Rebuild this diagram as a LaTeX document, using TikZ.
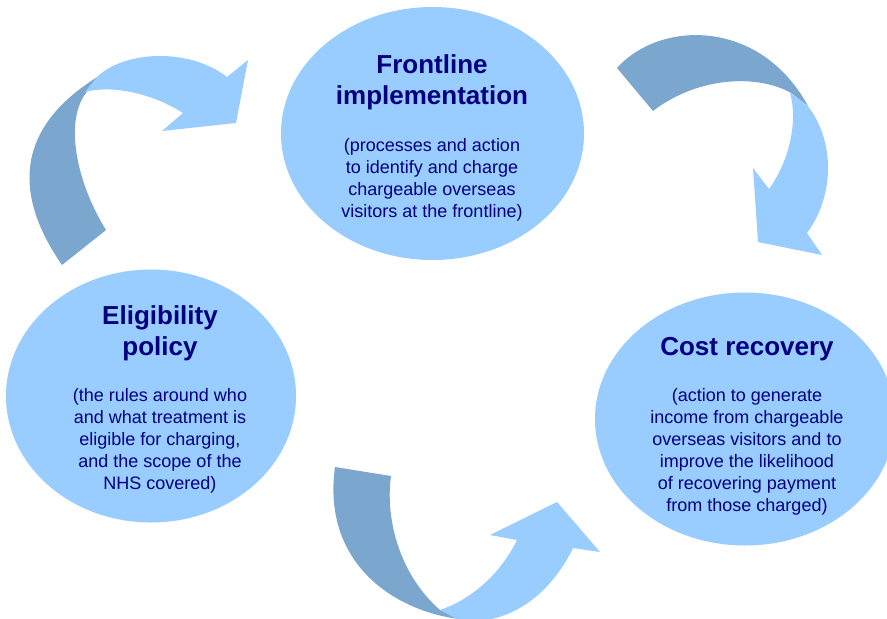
\documentclass[tikz,border=0pt]{standalone}
\usepackage{fontspec}
\setmainfont{Liberation Sans}
\usetikzlibrary{shapes.geometric}
\definecolor{bubblefill}{HTML}{99CCFF}
\definecolor{ribbonlight}{HTML}{99CCFF}
\definecolor{ribbondark}{HTML}{7BA6CE}
\definecolor{ink}{HTML}{000080}
\begin{document}
\begin{tikzpicture}[x=1pt,y=-1pt,
  bubble/.style={ellipse, fill=bubblefill, inner sep=0pt, draw=none},
  headline/.style={text=ink, inner sep=0pt, align=center,
    font=\fontsize{26}{31}\selectfont\bfseries},
  note/.style={text=ink, inner sep=0pt, align=center,
    font=\fontsize{18}{22}\selectfont},
  dark/.style={fill=ribbondark},
  light/.style={fill=ribbonlight}]
\useasboundingbox (0,0) rectangle (887,619);
\clip (0,0) rectangle (887,619);

% curved arrow, upper left: from eligibility policy to frontline
\fill[dark] (62,265) .. controls (10,190) and (19,125) .. (99,76)
  -- (86,93) .. controls (65,120) and (75,180) .. (106,230) -- cycle;
\fill[light] (97,77) .. controls (125,50) and (190,48) .. (227,77)
  -- (248,60) -- (236,123) -- (162,131) -- (183,113)
  .. controls (150,92) and (110,85) .. (85,92) -- cycle;

% curved arrow, upper right: from frontline to cost recovery
\fill[dark] (617,68) .. controls (660,20) and (760,18) .. (808,106)
  -- (791,93) .. controls (760,75) and (700,75) .. (653,111) -- cycle;
\fill[light] (807,105) .. controls (835,140) and (835,195) .. (807,233)
  -- (822,255) -- (758,242) -- (753,168) -- (769,189)
  .. controls (790,160) and (798,120) .. (790,93) -- cycle;

% curved arrow, bottom: towards cost recovery
\fill[dark] (335,467) .. controls (322,560) and (390,610) .. (459,619)
  -- (440,610) .. controls (400,575) and (385,520) .. (391,476) -- cycle;
\fill[light] (440,610) .. controls (470,600) and (500,575) .. (517,540)
  -- (490,535) -- (557,502) -- (600,552) -- (573,548)
  .. controls (548,600) and (500,630) .. (455,618) -- cycle;

% the three stages
\node[bubble, minimum width=303pt, minimum height=253pt] (front) at (432.5,133.5) {};
\node[bubble, minimum width=290pt, minimum height=253pt] (elig) at (151,396) {};
\node[bubble, minimum width=300pt, minimum height=253pt] (cost) at (745,419) {};

\node[headline] (front-title) at (432,82) {Frontline\\implementation};
\node[note] (front-note) at (432,180) {(processes and action\\to identify and charge\\chargeable overseas\\visitors at the frontline)};

\node[headline] (elig-title) at (160,333) {Eligibility\\policy};
\node[note] (elig-note) at (160,441) {(the rules around who\\and what treatment is\\eligible for charging,\\and the scope of the\\NHS covered)};

\node[headline] (cost-title) at (747,349) {Cost recovery};
\node[note] (cost-note) at (747,452) {(action to generate\\income from chargeable\\overseas visitors and to\\improve the likelihood\\of recovering payment\\from those charged)};
\end{tikzpicture}
\end{document}
